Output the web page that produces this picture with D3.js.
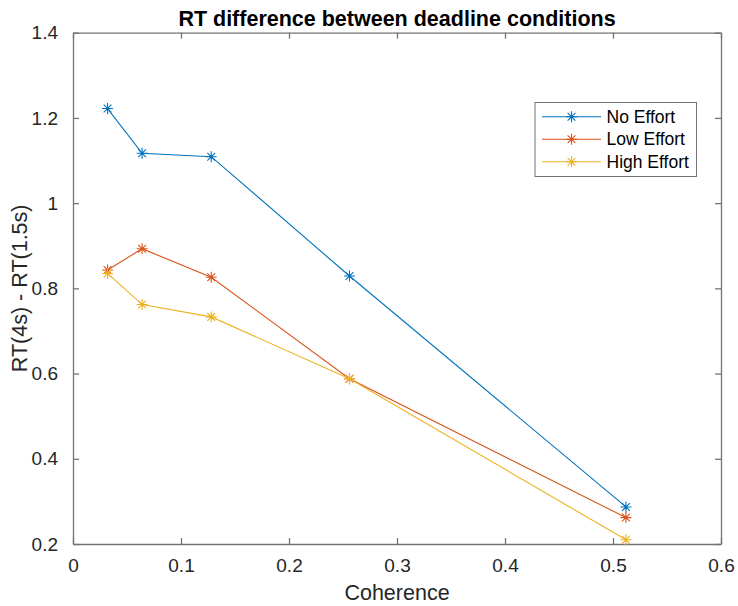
<!DOCTYPE html>
<html>
<head>
<meta charset="utf-8">
<script src="https://cdn.jsdelivr.net/npm/d3@7"></script>
<style>
  html, body { margin: 0; padding: 0; background: #fff; }
  svg { display: block; font-family: "Liberation Sans", Arial, Helvetica, sans-serif; }
</style>
</head>
<body>
<svg id="chart" width="738" height="606"></svg>
<script>
// Motion coherence levels
const coherence = [0.032, 0.064, 0.128, 0.256, 0.512];

// RT(4s) - RT(1.5s) per effort condition
const noEffort   = [1.222, 1.117, 1.109, 0.829, 0.287];
const lowEffort  = [0.843, 0.893, 0.826, 0.588, 0.262];
const highEffort = [0.835, 0.762, 0.733, 0.588, 0.210];

const seriesNames = ["No Effort", "Low Effort", "High Effort"];
const seriesColors = ["#0072BD", "#D95319", "#EDB120"];

const xTicks = [0, 0.1, 0.2, 0.3, 0.4, 0.5, 0.6];
const yTicks = [0.2, 0.4, 0.6, 0.8, 1.0, 1.2, 1.4];

const series = [noEffort, lowEffort, highEffort].map((vals, i) => ({
  name: seriesNames[i],
  color: seriesColors[i],
  points: vals.map((v, j) => ({ x: coherence[j], y: v }))
}));

const svg = d3.select("#chart");
const plot = { left: 73, top: 32.7, right: 721, bottom: 544 };

const x = d3.scaleLinear().domain([0, 0.6]).range([plot.left, plot.right]);
const y = d3.scaleLinear().domain([0.2, 1.4]).range([plot.bottom, plot.top]);

const axisColor = "#737373";
const textColor = "#262626";
const tickLen = 6;
const fmt = d => (d === 0 ? "0" : d3.format("~g")(d));

// Axes on all four sides, inward ticks
const axes = [
  { axis: d3.axisBottom(x), t: `translate(0,${plot.bottom})`, labels: true },
  { axis: d3.axisTop(x), t: `translate(0,${plot.top})`, labels: false },
  { axis: d3.axisLeft(y), t: `translate(${plot.left},0)`, labels: true },
  { axis: d3.axisRight(y), t: `translate(${plot.right},0)`, labels: false }
];
axes.forEach(({ axis, t, labels }, i) => {
  const isX = i < 2;
  axis.tickValues(isX ? xTicks : yTicks)
      .tickSizeInner(-tickLen)
      .tickSizeOuter(0)
      .tickPadding(isX ? 15 : 15)
      .tickFormat(labels ? fmt : "");
  const g = svg.append("g").attr("transform", t).call(axis);
  g.select(".domain").attr("stroke", axisColor).attr("stroke-width", 1.3);
  g.selectAll(".tick line").attr("stroke", axisColor).attr("stroke-width", 1.3);
  g.selectAll(".tick text")
    .attr("fill", textColor)
    .attr("font-size", 19)
    .attr("font-family", "'Liberation Sans', Arial, sans-serif");
});

// Title and axis labels
svg.append("text")
  .attr("x", (plot.left + plot.right) / 2)
  .attr("y", 26)
  .attr("text-anchor", "middle")
  .attr("font-size", 21.5)
  .attr("font-weight", "bold")
  .attr("fill", "#000")
  .text("RT difference between deadline conditions");

svg.append("text")
  .attr("x", (plot.left + plot.right) / 2)
  .attr("y", 600)
  .attr("text-anchor", "middle")
  .attr("font-size", 21.5)
  .attr("fill", textColor)
  .text("Coherence");

svg.append("text")
  .attr("transform", `translate(27,${(plot.top + plot.bottom) / 2}) rotate(-90)`)
  .attr("text-anchor", "middle")
  .attr("font-size", 21.5)
  .attr("fill", textColor)
  .text("RT(4s) - RT(1.5s)");

// Asterisk marker (plus + cross)
function asterisk(r) {
  const d = r * Math.SQRT1_2;
  return `M${-r},0L${r},0M0,${-r}L0,${r}M${-d},${-d}L${d},${d}M${-d},${d}L${d},${-d}`;
}

const line = d3.line().x(d => x(d.x)).y(d => y(d.y));

series.forEach(s => {
  const g = svg.append("g");
  g.append("path")
    .datum(s.points)
    .attr("d", line)
    .attr("fill", "none")
    .attr("stroke", s.color)
    .attr("stroke-width", 1.1);
  g.selectAll("path.mk")
    .data(s.points)
    .join("path")
    .attr("class", "mk")
    .attr("transform", d => `translate(${x(d.x)},${y(d.y)})`)
    .attr("d", asterisk(5.5))
    .attr("stroke", s.color)
    .attr("stroke-width", 1.1)
    .attr("fill", "none");
});

// Legend
const legend = { x: 535, y: 102.5, w: 161.5, h: 74 };
const lg = svg.append("g");
lg.append("rect")
  .attr("x", legend.x).attr("y", legend.y)
  .attr("width", legend.w).attr("height", legend.h)
  .attr("fill", "#fff")
  .attr("stroke", axisColor)
  .attr("stroke-width", 1);
series.forEach((s, i) => {
  const cy = legend.y + 14.3 + i * 22.5;
  lg.append("line")
    .attr("x1", legend.x + 7).attr("x2", legend.x + 66)
    .attr("y1", cy).attr("y2", cy)
    .attr("stroke", s.color).attr("stroke-width", 1.1);
  lg.append("path")
    .attr("transform", `translate(${legend.x + 36.5},${cy})`)
    .attr("d", asterisk(5.5))
    .attr("stroke", s.color).attr("stroke-width", 1.1).attr("fill", "none");
  lg.append("text")
    .attr("x", legend.x + 71.5)
    .attr("y", cy)
    .attr("dy", "0.35em")
    .attr("font-size", 17.5)
    .attr("fill", "#000")
    .text(s.name);
});
</script>
</body>
</html>
